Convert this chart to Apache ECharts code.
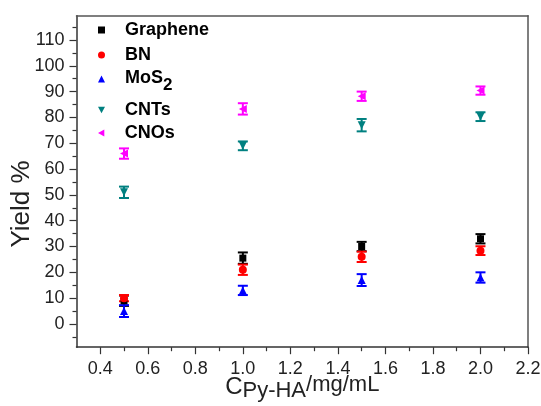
<!DOCTYPE html>
<html>
<head>
<meta charset="utf-8">
<script src="https://cdn.jsdelivr.net/npm/echarts@6/dist/echarts.min.js"></script>
<style>
html,body{margin:0;padding:0;background:#fff;}
#c{width:541px;height:406px;}
</style>
</head>
<body>
<div id="c"></div>
<script>
// ---- data ----
var xValues = [0.5, 1.0, 1.5, 2.0];
var grapheneY = [9, 25.5, 30, 33];
var grapheneErr = [2, 2.2, 1.8, 1.8];
var bnY = [10, 21, 26, 28.4];
var bnErr = [1.2, 2, 2, 1.7];
var mos2Y = [5, 13, 17, 18];
var mos2Err = [2.3, 1.8, 2.3, 2];
var cntsY = [51, 69, 77, 80.3];
var cntsErr = [2.2, 1.7, 2.4, 1.7];
var cnosY = [66, 83.3, 88.2, 90.4];
var cnosErr = [2, 2.2, 1.8, 1.6];

var xMajorTicks = [0.4, 0.6, 0.8, 1.0, 1.2, 1.4, 1.6, 1.8, 2.0, 2.2];
var xMinorTicks = [0.5, 0.7, 0.9, 1.1, 1.3, 1.5, 1.7, 1.9, 2.1];
var yMajorTicks = [0, 10, 20, 30, 40, 50, 60, 70, 80, 90, 100, 110];
var yMinorTicks = [-5, 5, 15, 25, 35, 45, 55, 65, 75, 85, 95, 105, 115];

var seriesNames = ['Graphene', 'BN', 'MoS2', 'CNTs', 'CNOs'];
var seriesY = [grapheneY, bnY, mos2Y, cntsY, cnosY];
var seriesErr = [grapheneErr, bnErr, mos2Err, cntsErr, cnosErr];

// ---- styles ----
var FONT = 'Liberation Sans, Arial, sans-serif';
var colors = ['#000000', '#ff0000', '#0000ff', '#008080', '#ff00ff'];
var symbols = ['rect', 'circle', 'triangle', 'triangle', 'triangle'];
var rotates = [0, 0, 0, 180, 90];
var legendIcons = ['rect', 'circle', 'triangle', 'path://M0,0L10,0L5,9Z', 'path://M9,0L9,10L0,5Z'];
var sizes = [7, 8, 8, 8, 8];
var legendCenters = [30, 55, 78, 110, 133];
var AXIS = '#333';

var chart = echarts.init(document.getElementById('c'), null, {renderer: 'canvas'});

var series = [];
seriesNames.forEach(function (name, i) {
  var errData = xValues.map(function (x, k) {
    return [x, seriesY[i][k] - seriesErr[i][k], seriesY[i][k] + seriesErr[i][k]];
  });
  series.push({
    type: 'custom',
    name: name + '_err',
    xAxisIndex: 0, yAxisIndex: 0,
    data: errData,
    silent: true,
    renderItem: (function (col) {
      return function (params, api) {
        var x = api.value(0);
        var pHi = api.coord([x, api.value(2)]);
        var pLo = api.coord([x, api.value(1)]);
        var hw = 5;
        var st = {stroke: col, lineWidth: 2};
        return {
          type: 'group',
          children: [
            {type: 'line', shape: {x1: pHi[0], y1: pHi[1], x2: pLo[0], y2: pLo[1]}, style: st},
            {type: 'line', shape: {x1: pHi[0] - hw, y1: pHi[1], x2: pHi[0] + hw, y2: pHi[1]}, style: st},
            {type: 'line', shape: {x1: pLo[0] - hw, y1: pLo[1], x2: pLo[0] + hw, y2: pLo[1]}, style: st}
          ]
        };
      };
    })(colors[i])
  });
  series.push({
    type: 'scatter',
    name: name,
    xAxisIndex: 0, yAxisIndex: 0,
    data: xValues.map(function (x, k) { return [x, seriesY[i][k]]; }),
    symbol: symbols[i],
    symbolRotate: rotates[i],
    symbolSize: sizes[i],
    itemStyle: {color: colors[i], opacity: 1},
    emphasis: {disabled: true}
  });
});

var legends = seriesNames.map(function (name, i) {
  var lg = {
    data: [{name: name, icon: legendIcons[i]}],
    left: 98,
    top: legendCenters[i] - 10,
    orient: 'vertical',
    itemWidth: 7,
    itemHeight: 7,
    selectedMode: false,
    padding: 0,
    textStyle: {
      fontFamily: FONT, fontSize: 18, fontWeight: 'bold', color: '#000',
      lineHeight: 20, padding: [0, 0, 0, 15]
    }
  };
  if (name === 'MoS2') {
    lg.formatter = function () { return '{a|MoS}{b|2}'; };
    lg.textStyle.rich = {
      a: {fontFamily: FONT, fontSize: 18, fontWeight: 'bold', color: '#000', verticalAlign: 'top', padding: [0, 0, 0, 0]},
      b: {fontFamily: FONT, fontSize: 17, fontWeight: 'bold', color: '#000', verticalAlign: 'top', padding: [8, 0, 0, 0]}
    };
    lg.top = legendCenters[i] - 9;
  }
  return lg;
});

var option = {
  backgroundColor: '#ffffff',
  animation: false,
  legend: legends,
  grid: {left: 76.5, right: 13, top: 15.7, bottom: 58.8, containLabel: false, outerBoundsMode: 'none'},
  xAxis: [
    {
      type: 'value', position: 'bottom', min: 0.3, max: 2.2,
      axisLine: {show: true, onZero: false, lineStyle: {color: AXIS, width: 1.5}},
      axisTick: {show: true, inside: false, length: 7, customValues: xMajorTicks, lineStyle: {color: AXIS, width: 1.2}},
      axisLabel: {show: true, customValues: xMajorTicks, margin: 13, fontFamily: FONT, fontSize: 18, color: '#222',
        formatter: function (v) { return v.toFixed(1); }},
      splitLine: {show: false},
      name: '{a|C}{b|Py-HA}{c|/mg/mL}',
      nameLocation: 'middle',
      nameGap: 27,
      nameMoveOverlap: false,
      nameTextStyle: {
        rich: {
          a: {fontFamily: FONT, fontSize: 24, color: '#222', verticalAlign: 'top', padding: [1, 0, 0, 0]},
          b: {fontFamily: FONT, fontSize: 22, color: '#222', verticalAlign: 'top', padding: [6, 0, 0, 0]},
          c: {fontFamily: FONT, fontSize: 22, color: '#222', verticalAlign: 'top', padding: [0, 0, 0, 0]}
        }
      }
    },
    {
      type: 'value', position: 'bottom', min: 0.3, max: 2.2,
      axisLine: {show: false, onZero: false},
      axisTick: {show: true, inside: false, length: 4, customValues: xMinorTicks, lineStyle: {color: AXIS, width: 1.2}},
      axisLabel: {show: false},
      splitLine: {show: false}
    },
    {
      type: 'value', position: 'top', min: 0.3, max: 2.2,
      axisLine: {show: true, onZero: false, lineStyle: {color: '#555', width: 1.5}},
      axisTick: {show: false}, axisLabel: {show: false}, splitLine: {show: false}
    }
  ],
  yAxis: [
    {
      type: 'value', position: 'left', min: -9, max: 119.4,
      axisLine: {show: true, onZero: false, lineStyle: {color: AXIS, width: 1.5}},
      axisTick: {show: true, inside: false, length: 7, customValues: yMajorTicks, lineStyle: {color: AXIS, width: 1.2}},
      axisLabel: {show: true, customValues: yMajorTicks, margin: 12, fontFamily: FONT, fontSize: 18, color: '#222'},
      splitLine: {show: false},
      name: 'Yield %',
      nameLocation: 'middle',
      nameGap: 42,
      nameMoveOverlap: false,
      nameTextStyle: {fontFamily: FONT, fontSize: 26, color: '#222', padding: [0, 45, 0, 0]}
    },
    {
      type: 'value', position: 'left', min: -9, max: 119.4,
      axisLine: {show: false, onZero: false},
      axisTick: {show: true, inside: false, length: 4, customValues: yMinorTicks, lineStyle: {color: AXIS, width: 1.2}},
      axisLabel: {show: false}, splitLine: {show: false}
    },
    {
      type: 'value', position: 'right', min: -9, max: 119.4,
      axisLine: {show: true, onZero: false, lineStyle: {color: '#555', width: 1.5}},
      axisTick: {show: false}, axisLabel: {show: false}, splitLine: {show: false}
    }
  ],
  series: series
};
chart.setOption(option);
</script>
</body>
</html>
